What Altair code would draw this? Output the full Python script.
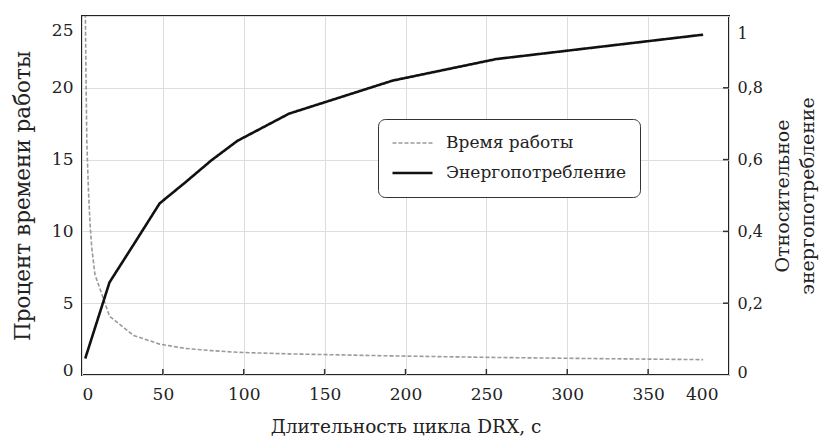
import altair as alt
import pandas as pd

# --- data ---
drx_time = [2, 2.5, 3, 4, 5, 6, 8, 17, 32, 48, 64, 80, 96, 128, 160, 192, 256, 320, 384]
time_pct = [26, 20.5, 16.2, 12.8, 10.5, 8.9, 7.0, 4.1, 2.75, 2.15, 1.85, 1.7, 1.58, 1.47, 1.4, 1.33, 1.22, 1.14, 1.07]

drx_energy = [2, 17, 32, 48, 64, 80, 96, 128, 192, 256, 384]
energy_rel = [0.046, 0.258, 0.364, 0.478, 0.537, 0.598, 0.652, 0.728, 0.82, 0.88, 0.948]

x_ticks = [0, 50, 100, 150, 200, 250, 300, 350, 400]
x_inner_ticks = [50, 100, 150, 200, 250, 300, 350]
left_ticks = [0, 5, 10, 15, 20, 25]
right_ticks = [0, 0.2, 0.4, 0.6, 0.8, 1]
right_inner_ticks = [0.2, 0.4, 0.6, 0.8]

series_names = ["Время работы", "Энергопотребление"]

FONT = "DejaVu Serif"
W, H = 647, 359

time_df = pd.DataFrame({"drx": drx_time, "val": time_pct, "series": series_names[0]})
energy_df = pd.DataFrame({"drx": drx_energy, "rel": energy_rel, "series": series_names[1]})
xt_df = pd.DataFrame({"drx": x_inner_ticks})
rt_df = pd.DataFrame({"rel": right_inner_ticks})

x_enc = alt.X(
    "drx:Q",
    scale=alt.Scale(domain=[0, 400], nice=False),
    axis=alt.Axis(
        title="Длительность цикла DRX, с",
        values=x_ticks,
        grid=True,
        ticks=False,
        domain=False,
        labelPadding=11,
        labelOffset={"condition": {"test": "datum.value == 400", "value": -11}, "value": 0},
        titleFontSize=18.5,
        titlePadding=15,
    ),
)

left_y = alt.Y(
    "val:Q",
    scale=alt.Scale(domain=[0, 25], nice=False),
    axis=alt.Axis(
        title="Процент времени работы",
        orient="left",
        values=left_ticks,
        grid=True,
        ticks=False,
        domain=False,
        labelPadding=9,
        labelOffset={
            "condition": [
                {"test": "datum.value == 25", "value": 14},
                {"test": "datum.value == 0", "value": -5},
            ],
            "value": 0,
        },
        titleFontSize=21.5,
        titlePadding=17,
    ),
)

right_axis = alt.Axis(
    title=["Относительное", "энергопотребление"],
    orient="right",
    values=right_ticks,
    grid=False,
    ticks=False,
    domain=False,
    labelPadding=8,
    labelFontSize=16,
    labelOffset={
        "condition": [
            {"test": "datum.value == 1", "value": 17},
            {"test": "datum.value == 0", "value": -3},
        ],
        "value": 0,
    },
    labelExpr="replace(format(datum.value, '~g'), '.', ',')",
    titleAngle=270,
    titleFontSize=19,
    titlePadding=5,
    titleLineHeight=25,
)
right_y = alt.Y("rel:Q", scale=alt.Scale(domain=[0, 1], nice=False), axis=right_axis)

color_enc = alt.Color(
    "series:N",
    scale=alt.Scale(domain=series_names, range=["#9a9a9a", "#111111"]),
    legend=alt.Legend(title=None),
)
dash_enc = alt.StrokeDash(
    "series:N",
    scale=alt.Scale(domain=series_names, range=[[4, 2], [1, 0]]),
    legend=alt.Legend(title=None),
)
width_enc = alt.StrokeWidth(
    "series:N",
    scale=alt.Scale(domain=series_names, range=[1.6, 2.6]),
    legend=alt.Legend(title=None),
)

time_line = alt.Chart(time_df).mark_line(clip=True).encode(
    x=x_enc, y=left_y, color=color_enc, strokeDash=dash_enc, strokeWidth=width_enc
)
x_tick_rules = alt.Chart(xt_df).mark_rule(color="#333", strokeWidth=1.5).encode(
    x=x_enc, y=alt.value(H), y2=alt.value(H - 6)
)

energy_line = alt.Chart(energy_df).mark_line(clip=True).encode(
    x=x_enc, y=right_y, color=color_enc, strokeDash=dash_enc, strokeWidth=width_enc
)
right_tick_rules = alt.Chart(rt_df).mark_rule(color="#333", strokeWidth=1.5).encode(
    y=right_y, x=alt.value(W - 6), x2=alt.value(W)
)

left_group = alt.layer(time_line, x_tick_rules)
right_group = alt.layer(energy_line, right_tick_rules)

chart = (
    alt.layer(left_group, right_group)
    .resolve_scale(y="independent")
    .properties(
        width=W,
        height=H,
        autosize=alt.AutoSizeParams(type="none"),
        padding={"left": 74, "top": 8, "right": 92, "bottom": 64},
        background="white",
    )
    .configure(font=FONT)
    .configure_view(stroke="#222", strokeWidth=2)
    .configure_axis(
        labelFont=FONT,
        labelFontSize=17,
        labelColor="#222",
        titleFont=FONT,
        titleFontWeight="normal",
        titleColor="#222",
        gridColor="#dddddd",
        gridWidth=1,
    )
    .configure_legend(
        orient="none",
        legendX=296,
        legendY=103,
        direction="vertical",
        strokeColor="#333",
        cornerRadius=7,
        padding=13,
        fillColor="white",
        labelFont=FONT,
        labelFontSize=17,
        labelColor="#222",
        labelLimit=400,
        symbolType="stroke",
        symbolSize=1600,
        clipHeight=22,
        rowPadding=8,
        labelOffset=12,
    )
)

chart.save("out.html", embed_options={"renderer": "svg", "actions": False})
